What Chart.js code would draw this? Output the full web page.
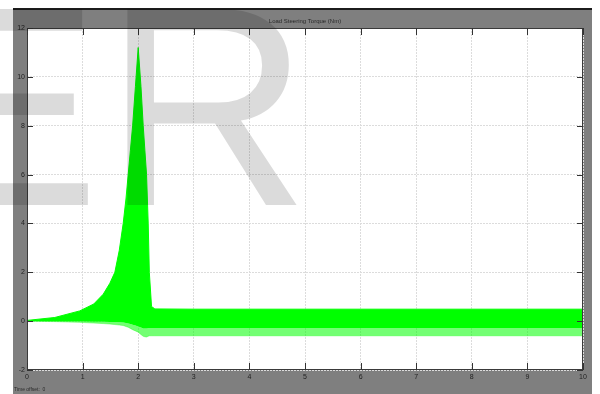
<!DOCTYPE html>
<html>
<head>
<meta charset="utf-8">
<title>Load Steering Torque</title>
<script src="https://cdn.jsdelivr.net/npm/chart.js"></script>
<style>
  html, body { margin: 0; padding: 0; background: #fff; }
  canvas { display: block; }
</style>
</head>
<body>
<canvas id="scope" width="600" height="394"></canvas>
<script>
// Envelope of the oscillating torque trace
const timeSec = [0, 0.5, 0.95, 1.2, 1.37, 1.49, 1.58, 1.66, 1.73, 1.78, 1.82, 1.86, 1.9, 1.95, 2.0, 2.05, 2.09, 2.12, 2.15, 2.18, 2.2, 2.24, 2.3, 3, 4, 5, 6, 7, 8, 9, 10];
const upperNm = [0.03, 0.15, 0.42, 0.7, 1.1, 1.55, 2.0, 2.9, 4.0, 5.0, 6.0, 7.0, 8.0, 9.6, 11.2, 9.6, 8.0, 7.0, 6.0, 4.0, 2.0, 0.6, 0.5, 0.49, 0.49, 0.49, 0.49, 0.49, 0.49, 0.49, 0.49];
const lowerNm = [0, 0, -0.01, -0.02, -0.02, -0.03, -0.04, -0.05, -0.06, -0.08, -0.1, -0.12, -0.15, -0.18, -0.22, -0.26, -0.3, -0.3, -0.3, -0.29, -0.28, -0.28, -0.28, -0.28, -0.28, -0.28, -0.28, -0.28, -0.28, -0.28, -0.28];
const fringeNm = [0, -0.02, -0.05, -0.08, -0.1, -0.12, -0.14, -0.16, -0.18, -0.22, -0.25, -0.3, -0.35, -0.4, -0.45, -0.55, -0.62, -0.64, -0.65, -0.62, -0.6, -0.6, -0.6, -0.6, -0.6, -0.6, -0.6, -0.6, -0.6, -0.6, -0.6];

// Axis ticks
const xTicks = [0, 1, 2, 3, 4, 5, 6, 7, 8, 9, 10];
const yTicks = [-2, 0, 2, 4, 6, 8, 10, 12];

const titleText = 'Load Steering Torque (Nm)';
const offsetText = 'Time offset:  0';

const toPoints = (ys) => timeSec.map((t, i) => ({ x: t, y: ys[i] }));

// Scope frame, title and background behind the plot
const scopeFrame = {
  id: 'scopeFrame',
  beforeDraw(chart) {
    const ctx = chart.ctx;
    const a = chart.chartArea;
    ctx.save();
    ctx.fillStyle = '#ffffff';
    ctx.fillRect(0, 0, chart.width, chart.height);
    ctx.fillStyle = '#7f7f7f';
    ctx.fillRect(13, 10, 579, 384);
    ctx.fillStyle = '#1c1c1c';
    ctx.fillRect(13, 8, 579, 2);
    ctx.fillStyle = '#ffffff';
    ctx.fillRect(a.left, a.top, a.right - a.left, a.bottom - a.top);

    ctx.fillStyle = '#2a2a2a';
    ctx.font = '6px "Liberation Sans", Arial, sans-serif';
    ctx.textAlign = 'center';
    ctx.textBaseline = 'middle';
    ctx.fillText(titleText, (a.left + a.right) / 2, 21);
    ctx.textAlign = 'left';
    ctx.font = '5px "Liberation Sans", Arial, sans-serif';
    ctx.fillText(offsetText, 14, 390);
    ctx.restore();
  },
  afterDraw(chart) {
    const ctx = chart.ctx;
    const a = chart.chartArea;
    const xs = chart.scales.x;
    const ys = chart.scales.y;
    ctx.save();
    // Box round the axes
    ctx.strokeStyle = '#3a3a3a';
    ctx.lineWidth = 1;
    ctx.strokeRect(a.left + 0.5, a.top + 0.5, a.right - a.left - 1, a.bottom - a.top - 1);

    // Inward tick marks, Matlab style
    ctx.strokeStyle = '#333';
    ctx.beginPath();
    xTicks.forEach(v => {
      const px = Math.round(xs.getPixelForValue(v)) + 0.5;
      ctx.moveTo(px, a.bottom); ctx.lineTo(px, a.bottom - 7);
      ctx.moveTo(px, a.top); ctx.lineTo(px, a.top + 7);
    });
    yTicks.forEach(v => {
      const py = Math.round(ys.getPixelForValue(v)) + 0.5;
      ctx.moveTo(a.left, py); ctx.lineTo(a.left + 6, py);
      ctx.moveTo(a.right, py); ctx.lineTo(a.right - 6, py);
    });
    ctx.stroke();

    // Watermark letters over the whole picture
    ctx.fillStyle = 'rgba(0, 0, 0, 0.14)';
    ctx.font = '285px "Liberation Sans", Arial, sans-serif';
    ctx.textAlign = 'left';
    ctx.textBaseline = 'alphabetic';
    ctx.fillText('E', -90, 205);
    ctx.fillText('R', 104, 205);
    ctx.restore();
  }
};

const tickFont = { family: '"Liberation Sans", Arial, sans-serif', size: 7 };

new Chart(document.getElementById('scope'), {
  type: 'line',
  data: {
    datasets: [
      {
        label: 'upper',
        data: toPoints(upperNm),
        borderColor: '#00ff00',
        borderWidth: 1,
        backgroundColor: '#00ff00',
        fill: '+1',
        pointRadius: 0,
        tension: 0
      },
      {
        label: 'lower',
        data: toPoints(lowerNm),
        borderColor: '#00ff00',
        borderWidth: 0,
        backgroundColor: 'rgba(0, 255, 0, 0.55)',
        fill: '+1',
        pointRadius: 0,
        tension: 0
      },
      {
        label: 'fringe',
        data: toPoints(fringeNm),
        borderColor: 'rgba(0, 255, 0, 0.35)',
        borderWidth: 1,
        fill: false,
        pointRadius: 0,
        tension: 0
      }
    ]
  },
  options: {
    responsive: false,
    animation: false,
    devicePixelRatio: 1,
    layout: { padding: { left: 13, top: 28, right: 17, bottom: 0 } },
    plugins: {
      legend: { display: false },
      tooltip: { enabled: false },
      title: { display: false }
    },
    scales: {
      x: {
        type: 'linear',
        min: 0,
        max: 10,
        afterFit: (scale) => { scale.height = 24; },
        afterBuildTicks: (scale) => { scale.ticks = xTicks.map(v => ({ value: v })); },
        ticks: { color: '#222', font: tickFont, padding: 3, maxRotation: 0 },
        grid: { color: '#dcdcdc', drawTicks: false },
        border: { display: false, dash: [2, 1] }
      },
      y: {
        type: 'linear',
        min: -2,
        max: 12,
        afterFit: (scale) => { scale.width = 14; },
        afterBuildTicks: (scale) => { scale.ticks = yTicks.map(v => ({ value: v })); },
        ticks: { color: '#222', font: tickFont, padding: 2 },
        grid: { color: '#dcdcdc', drawTicks: false },
        border: { display: false, dash: [2, 1] }
      }
    }
  },
  plugins: [scopeFrame]
});
</script>
</body>
</html>
